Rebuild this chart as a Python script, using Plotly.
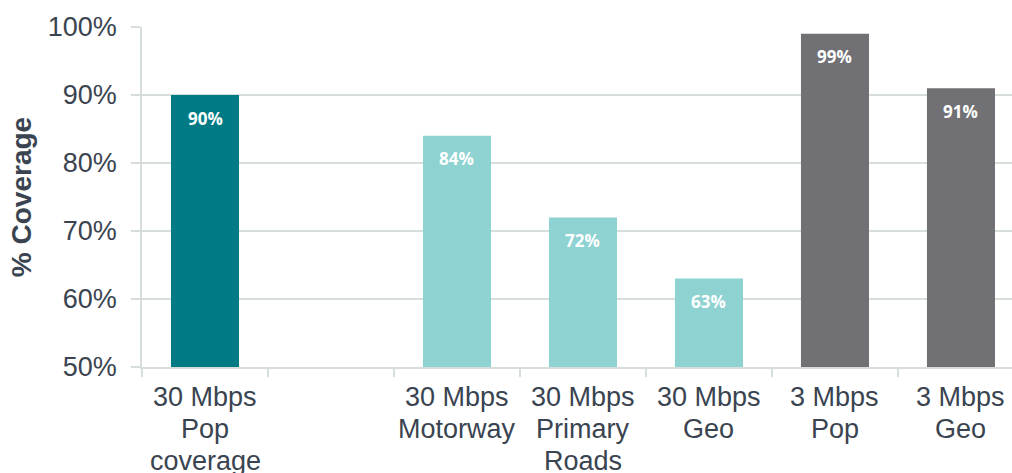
import plotly.graph_objects as go

# Coverage by speed tier and measure
categories = [
    "30 Mbps Pop coverage",
    "",
    "30 Mbps Motorway",
    "30 Mbps Primary Roads",
    "30 Mbps Geo",
    "3 Mbps Pop",
    "3 Mbps Geo",
]
# Category labels broken into display lines
label_lines = [
    ["30 Mbps", "Pop", "coverage"],
    [],
    ["30 Mbps", "Motorway"],
    ["30 Mbps", "Primary", "Roads"],
    ["30 Mbps", "Geo"],
    ["3 Mbps", "Pop"],
    ["3 Mbps", "Geo"],
]
coverage = [90, None, 84, 72, 63, 99, 91]
bar_colors = ["#007A84", "#FFFFFF", "#8ED2D2", "#8ED2D2", "#8ED2D2", "#707075", "#707075"]

AXIS_COLOR = "#D6DED9"
TEXT_COLOR = "#3A4450"
LABEL_SIZE = 27

# Unique placeholder keys so the empty slot still occupies a category
cat_keys = [c if c else " " for c in categories]

fig = go.Figure(
    go.Bar(
        x=cat_keys,
        y=coverage,
        marker=dict(color=bar_colors, line=dict(width=0)),
        width=0.54,
        hoverinfo="skip",
    )
)

# Value labels sitting just inside the top of each bar
for key, val in zip(cat_keys, coverage):
    if val is None:
        continue
    fig.add_annotation(
        x=key, y=val, text=f"<b>{val}%</b>", showarrow=False,
        yshift=-23, font=dict(family="Open Sans", size=17, color="white"),
    )

# Category labels, one annotation per line for tight line spacing
for key, lines in zip(cat_keys, label_lines):
    for i, line in enumerate(lines):
        fig.add_annotation(
            x=key, xref="x", y=0, yref="paper", text=line, showarrow=False,
            yanchor="middle", yshift=-30 - 32 * i,
            font=dict(size=LABEL_SIZE, color=TEXT_COLOR),
        )

fig.update_layout(
    width=1012, height=473,
    margin=dict(l=142, r=0, t=27, b=106),
    paper_bgcolor="white", plot_bgcolor="white",
    showlegend=False,
    font=dict(family="Liberation Sans, Arial", color=TEXT_COLOR, size=LABEL_SIZE),
)
fig.update_xaxes(
    type="category", categoryorder="array", categoryarray=cat_keys,
    range=[-0.5, 6.405],
    showline=True, linecolor=AXIS_COLOR, linewidth=1.5,
    ticks="outside", tickson="boundaries", ticklen=8, tickcolor=AXIS_COLOR, tickwidth=1.5,
    showgrid=False, showticklabels=False,
)
fig.update_yaxes(
    range=[50, 100], dtick=10, ticksuffix="%",
    showline=True, linecolor=AXIS_COLOR, linewidth=1.5,
    showgrid=True, gridcolor=AXIS_COLOR, gridwidth=1.5,
    ticks="outside", ticklen=9, tickcolor=AXIS_COLOR, tickwidth=1.5,
    ticklabelstandoff=9,
    tickfont=dict(size=LABEL_SIZE, color=TEXT_COLOR),
    title=dict(text="<b>% Coverage</b>", font=dict(size=28, color=TEXT_COLOR), standoff=8),
    zeroline=False,
)

fig.write_html("out.html")
